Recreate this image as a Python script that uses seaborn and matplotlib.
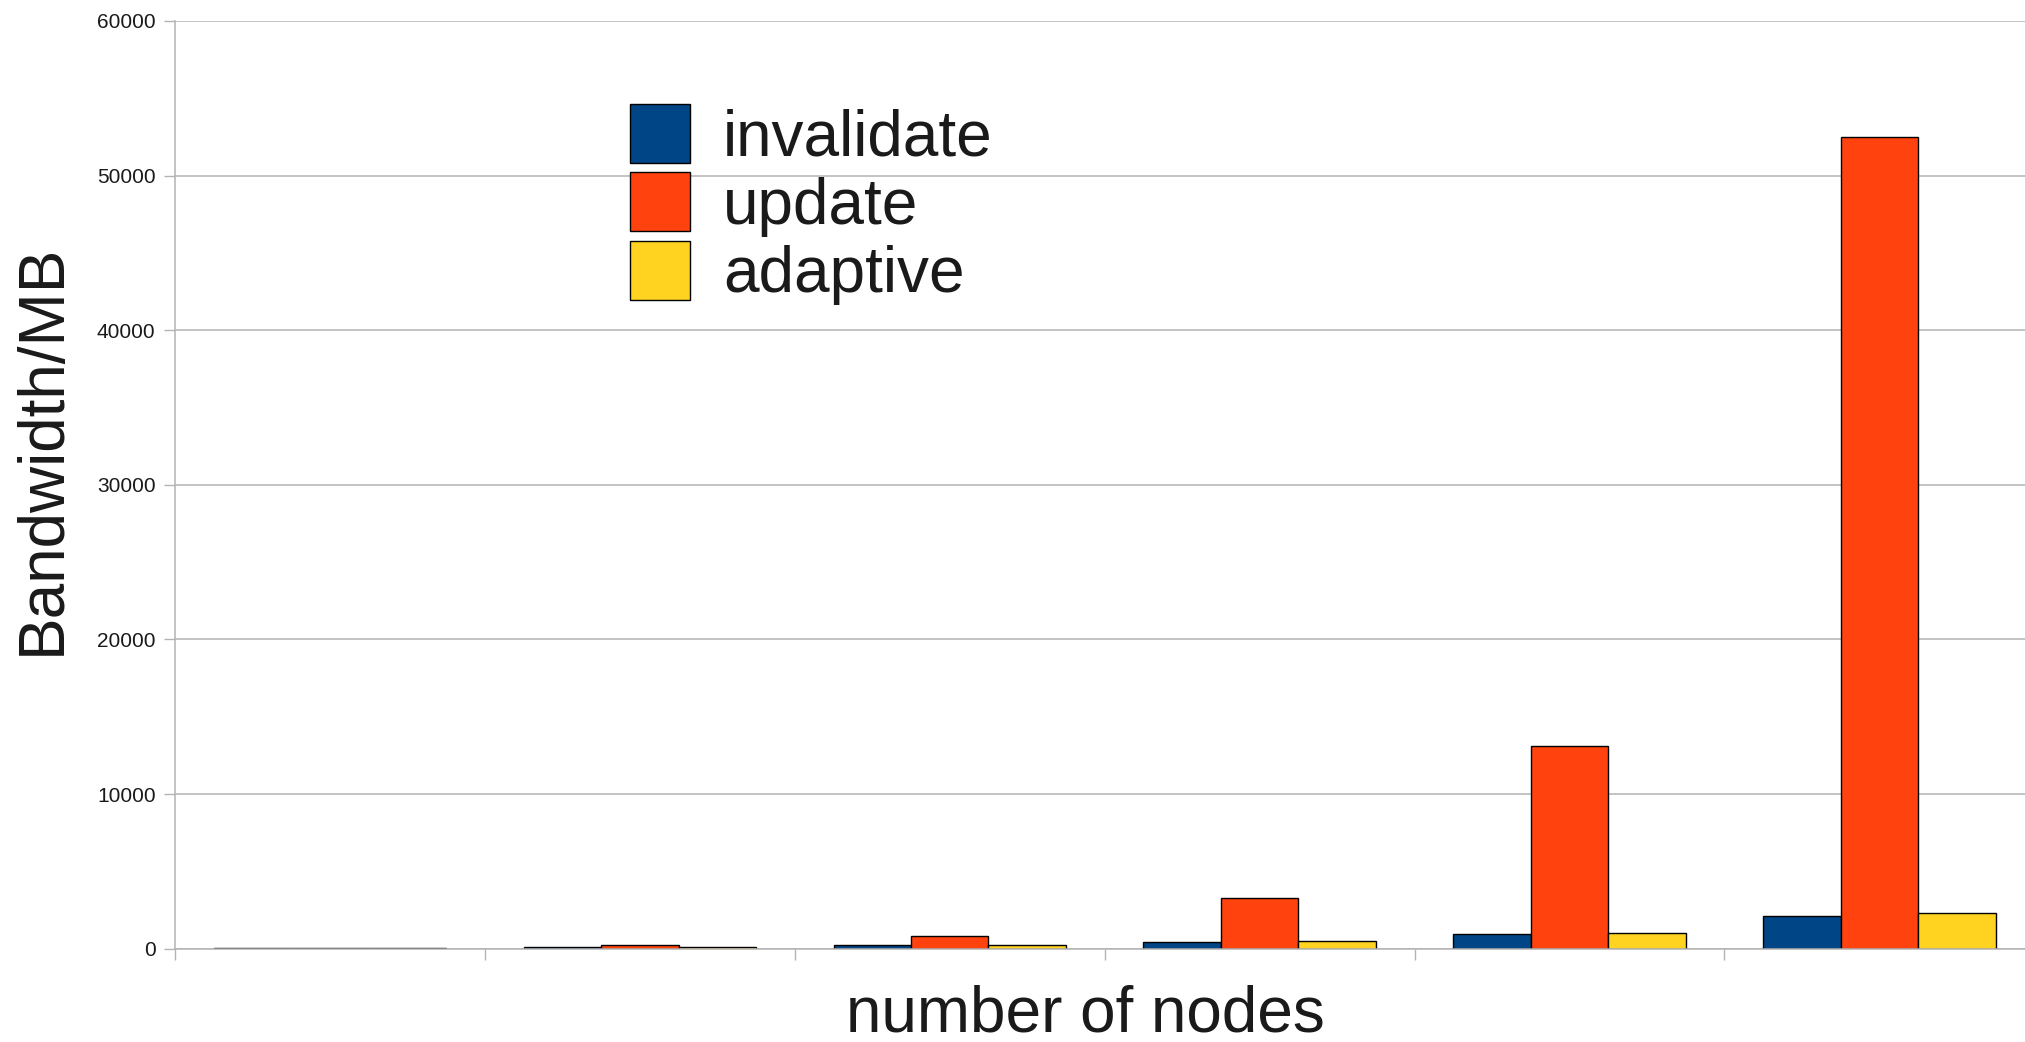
import matplotlib
matplotlib.use("Agg")
import matplotlib.pyplot as plt
import seaborn as sns
import pandas as pd

# Bandwidth (MB) per protocol for each cluster size
node_counts = ["2", "4", "8", "16", "32", "64"]
invalidate = [30, 100, 220, 450, 930, 2120]
update = [60, 230, 800, 3280, 13120, 52500]
adaptive = [30, 100, 210, 500, 1000, 2330]

series_names = ["invalidate", "update", "adaptive"]
series_colors = ["#004586", "#ff420e", "#ffd320"]

df = pd.DataFrame({
    "nodes": node_counts * 3,
    "protocol": [s for s in series_names for _ in node_counts],
    "bandwidth": invalidate + update + adaptive,
})

sns.set_style("white")
plt.rcParams["font.family"] = ["Liberation Sans", "DejaVu Sans"]

fig = plt.figure(figsize=(20.25, 10.42), dpi=100)
ax = fig.add_axes([175 / 2025, 93.3 / 1042, 1 - 175 / 2025, 927.7 / 1042])

sns.barplot(
    data=df, x="nodes", y="bandwidth", hue="protocol",
    order=node_counts, hue_order=series_names,
    palette=series_colors, saturation=1, width=0.75, gap=0,
    edgecolor="black", linewidth=1.0, ax=ax, legend=True,
)

grid_col = "#b3b3b3"
ax.set_ylim(0, 60000)
ax.set_xlim(-0.5, 5.47)
ax.set_yticks(range(0, 60001, 10000))
ax.set_yticklabels([str(v) for v in range(0, 60001, 10000)], fontsize=15, color="#1a1a1a")
ax.set_xticks([-0.5, 0.5, 1.5, 2.5, 3.5, 4.5])
ax.set_xticklabels([])
ax.tick_params(axis="both", direction="out", length=8, width=1.0, color=grid_col, pad=6)
ax.tick_params(axis="x", bottom=True)
ax.tick_params(axis="y", left=True)
ax.yaxis.grid(True, color=grid_col, linewidth=1.1)
ax.xaxis.grid(False)
ax.set_axisbelow(True)
for side in ["top", "right"]:
    ax.spines[side].set_visible(False)
for side in ["left", "bottom"]:
    ax.spines[side].set_color(grid_col)
    ax.spines[side].set_linewidth(1.1)

ax.set_xlabel("")
ax.set_ylabel("")
fig.text(1085 / 2025, 1 - 1014 / 1042, "number of nodes", fontsize=46,
         color="#1a1a1a", ha="center", va="center")
fig.text(43 / 2025, 1 - 449 / 1042, "Bandwidth/MB", fontsize=46, rotation=90,
         color="#1a1a1a", ha="center", va="center")

handles, labels = ax.get_legend_handles_labels()
ax.legend(
    handles, labels, loc="upper left",
    bbox_to_anchor=(630 / 2025, 1 - 104 / 1042), bbox_transform=fig.transFigure,
    frameon=False, fontsize=46, handlelength=0.935, handleheight=1.04,
    handletextpad=0.52, labelspacing=0.065, borderpad=0, borderaxespad=0,
    labelcolor="#1a1a1a",
)

fig.savefig("out.png", dpi=100, facecolor="white")
